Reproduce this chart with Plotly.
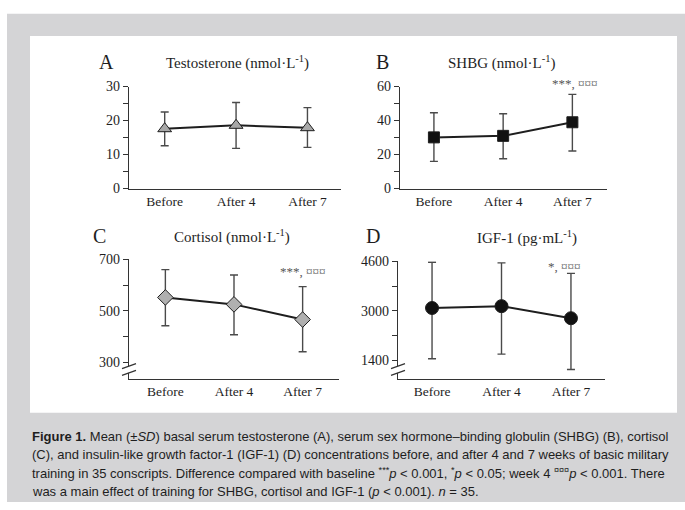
import plotly.graph_objects as go

# ---- data -------------------------------------------------------------
timepoints = ["Before", "After 4", "After 7"]

testo_mean = [17.6, 18.6, 17.9]
testo_hi = [22.5, 25.3, 23.8]
testo_lo = [12.6, 11.8, 12.1]

shbg_mean = [30.1, 31.0, 39.0]
shbg_hi = [44.6, 44.0, 55.4]
shbg_lo = [16.0, 17.5, 22.1]

cort_mean = [552, 525, 466]
cort_hi = [660, 639, 594]
cort_lo = [442, 407, 341]

igf_mean = [3090, 3150, 2760]
igf_hi = [4570, 4550, 4210]
igf_lo = [1450, 1600, 1100]

# ---- helpers ----------------------------------------------------------
W, H = 685, 510
SERIF = "Liberation Serif, Times New Roman, serif"
SANS = "Liberation Sans, Arial, sans-serif"
INK = "#1e1e1e"
BAR = "#4a4a4a"


def px(x):
    return x / W


def py(y):
    return 1 - y / H


xs = list(range(len(timepoints)))

fig = go.Figure()


def add_panel(idx, mean, hi, lo, symbol, fill, msize):
    fig.add_trace(go.Scatter(
        x=xs, y=mean,
        xaxis="x" if idx == 1 else f"x{idx}",
        yaxis="y" if idx == 1 else f"y{idx}",
        mode="lines+markers",
        line=dict(color=INK, width=2),
        marker=dict(symbol=symbol, size=msize, color=fill,
                    line=dict(color=INK, width=1)),
        error_y=dict(type="data", symmetric=False,
                     array=[h - m for h, m in zip(hi, mean)],
                     arrayminus=[m - l for m, l in zip(mean, lo)],
                     color=BAR, thickness=1.4, width=4),
        showlegend=False, cliponaxis=False,
    ))


add_panel(1, testo_mean, testo_hi, testo_lo, "triangle-up", "#a8a8a8", 12)
add_panel(2, shbg_mean, shbg_hi, shbg_lo, "square", "#111111", 11)
add_panel(3, cort_mean, cort_hi, cort_lo, "diamond", "#b0b0b0", 12)
add_panel(4, igf_mean, igf_hi, igf_lo, "circle", "#111111", 13)


def xax(x0, x1, lo, hi, anchor):
    return dict(domain=[px(x0), px(x1)], range=[lo, hi], anchor=anchor,
                tickvals=xs, ticktext=timepoints, ticks="",
                showline=True, linecolor="#333", linewidth=1.3,
                showgrid=False, zeroline=False,
                tickfont=dict(family=SERIF, size=13.5, color=INK))


def yax(y0, y1, lo, hi, major, minor, anchor):
    return dict(domain=[py(y0), py(y1)], range=[lo, hi], anchor=anchor,
                tickvals=major, ticks="outside", ticklen=5,
                tickwidth=1.2, tickcolor="#333",
                minor=dict(tickvals=minor, ticks="outside", ticklen=5,
                           tickwidth=1.2, tickcolor="#333"),
                showline=True, linecolor="#333", linewidth=1.3,
                showgrid=False, zeroline=False,
                tickfont=dict(family=SERIF, size=14, color=INK))


fig.update_layout(
    width=W, height=H, margin=dict(l=0, r=0, t=0, b=0),
    paper_bgcolor="white", plot_bgcolor="rgba(0,0,0,0)",
    # panel A
    xaxis=xax(129, 341, -0.5, 2.47, "y"),
    yaxis=yax(187, 82, 0, 30, [0, 10, 20, 30], [5, 15, 25], "x"),
    # panel B
    xaxis2=xax(400, 607, -0.49, 2.5, "y2"),
    yaxis2=yax(187, 82, 0, 60, [0, 20, 40, 60], [10, 30, 50], "x2"),
    # panel C
    xaxis3=xax(129, 339, -0.53, 2.53, "y3"),
    yaxis3=yax(383, 260, 236, 700, [300, 500, 700], [400, 600], "x3"),
    # panel D
    xaxis4=xax(398, 605, -0.49, 2.49, "y4"),
    yaxis4=yax(383, 262, 804, 4600, [1400, 3000, 4600], [2200, 3800], "x4"),
)

# background frame: grey surround with white chart area
shapes = [
    dict(type="rect", xref="paper", yref="paper", x0=px(7), x1=1, y0=0, y1=py(7),
         fillcolor="#d4d4d6", line=dict(width=0), layer="below"),
    dict(type="rect", xref="paper", yref="paper", x0=px(30), x1=px(677),
         y0=py(418), y1=py(30),
         fillcolor="white", line=dict(width=0), layer="below"),
]

# axis-break marks on the cortisol and IGF-1 axes
for xa, ya, yb in [(129, 370, 377), (398, 370, 377)]:
    shapes.append(dict(type="rect", xref="paper", yref="paper",
                       x0=px(xa - 2), x1=px(xa + 2), y0=py(yb), y1=py(ya),
                       fillcolor="white", line=dict(width=0), layer="above"))
    for yy in (ya, yb):
        shapes.append(dict(type="line", xref="paper", yref="paper",
                           x0=px(xa - 7), y0=py(yy + 2.5),
                           x1=px(xa + 7), y1=py(yy - 2.5),
                           line=dict(color="#333", width=1.3), layer="above"))
fig.update_layout(shapes=shapes)

ann = []
# panel letters and titles
for letter, lx, ly in [("A", 106, 57), ("B", 382, 57), ("C", 100, 236), ("D", 373, 236)]:
    ann.append(dict(text=letter, x=px(lx), y=py(ly), xref="paper", yref="paper",
                    showarrow=False, xanchor="center", yanchor="middle",
                    font=dict(family=SERIF, size=20, color=INK)))
titles = [
    ("Testosterone (nmol·L<sup>-1</sup>)", 237, 57),
    ("SHBG (nmol·L<sup>-1</sup>)", 502, 57),
    ("Cortisol (nmol·L<sup>-1</sup>)", 232, 236),
    ("IGF-1 (pg·mL<sup>-1</sup>)", 527, 237),
]
for t, tx, ty in titles:
    ann.append(dict(text=t, x=px(tx), y=py(ty), xref="paper", yref="paper",
                    showarrow=False, xanchor="center", yanchor="middle",
                    font=dict(family=SERIF, size=15, color=INK)))

# significance markers above the week-7 points
sig = [("***, ¤¤¤", 575, 79), ("***, ¤¤¤", 303, 273), ("*, ¤¤¤", 564, 267)]
for t, sx, sy in sig:
    ann.append(dict(text=t, x=px(sx), y=py(sy), xref="paper", yref="paper",
                    showarrow=False, xanchor="center", yanchor="middle",
                    font=dict(family=SERIF, size=13, color="#555")))

# caption
caption = [
    "<b>Figure 1.</b> Mean (±<i>SD</i>) basal serum testosterone (A), serum sex hormone–binding globulin (SHBG) (B), cortisol",
    "(C), and insulin-like growth factor-1 (IGF-1) (D) concentrations before, and after 4 and 7 weeks of basic military",
    "training in 35 conscripts. Difference compared with baseline <sup>***</sup><i>p</i> < 0.001, <sup>*</sup><i>p</i> < 0.05; week 4 <sup>¤¤¤</sup><i>p</i> < 0.001. There",
    "was a main effect of training for SHBG, cortisol and IGF-1 (<i>p</i> < 0.001). <i>n</i> = 35.",
]
for i, line in enumerate(caption):
    ann.append(dict(text=line, x=px(30), y=py(442 + 19 * i), xref="paper", yref="paper",
                    showarrow=False, xanchor="left", yanchor="middle",
                    font=dict(family=SANS, size=13, color=INK)))

fig.update_layout(annotations=ann)

fig.write_html("out.html")
